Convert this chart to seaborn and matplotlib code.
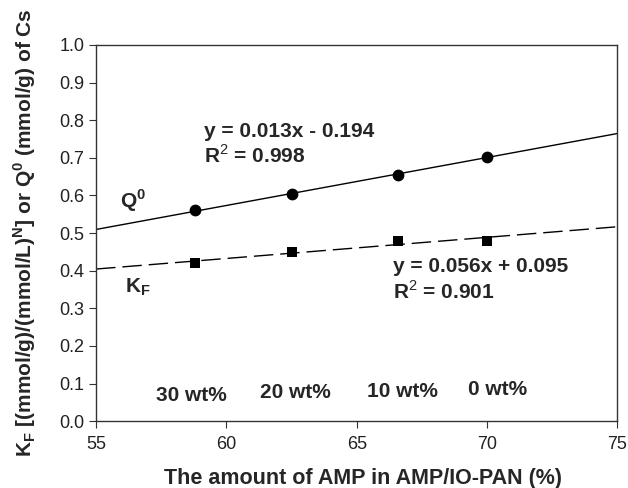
import numpy as np
import pandas as pd
import seaborn as sns
import matplotlib.pyplot as plt

# data
amp = [58.8, 62.5, 66.6, 70.0]
q0 = [0.560, 0.603, 0.655, 0.703]
kf = [0.420, 0.450, 0.480, 0.480]
wt_labels = ["30 wt%", "20 wt%", "10 wt%", "0 wt%"]
wt_x = [58.65, 62.65, 66.75, 70.4]
wt_y = [0.068, 0.077, 0.078, 0.084]

sns.set_style("ticks")
plt.rcParams['font.family'] = ['Liberation Sans', 'DejaVu Sans']
plt.rcParams['mathtext.fontset'] = 'custom'
plt.rcParams['mathtext.rm'] = 'Liberation Sans'
plt.rcParams['mathtext.bf'] = 'Liberation Sans:bold'

df = pd.DataFrame({"amp": amp, "q0": q0, "kf": kf})

fig, ax = plt.subplots(figsize=(6.28, 4.88), dpi=100)
fig.subplots_adjust(left=0.153, right=0.983, top=0.908, bottom=0.137)

xlim = (55, 75)
xs = np.array(xlim)

# linear trend lines
p_q = np.polyfit(amp, q0, 1)
p_k = np.polyfit(amp, kf, 1)
sns.lineplot(x=xs, y=np.polyval(p_q, xs), ax=ax, color="black", lw=1)
ax.plot(xs, np.polyval(p_k, xs), color="black", lw=1, dashes=(14, 5))

sns.scatterplot(data=df, x="amp", y="q0", ax=ax, marker="o", s=72,
                color="black", linewidth=0, zorder=3)
sns.scatterplot(data=df, x="amp", y="kf", ax=ax, marker="s", s=50,
                color="black", linewidth=0, zorder=3)

ax.set_xlim(*xlim)
ax.set_ylim(0, 1.0)
ax.set_xticks([55, 60, 65, 70, 75])
ax.set_yticks(np.arange(0, 1.01, 0.1))
ax.set_yticklabels([f"{v:.1f}" for v in np.arange(0, 1.01, 0.1)])
ax.tick_params(labelsize=13, length=5, color="#333333", labelcolor="#222222")
ax.tick_params(axis="x", pad=6)
for s in ax.spines.values():
    s.set_linewidth(1)
    s.set_color("#333333")

fw = dict(fontsize=15, fontweight="bold")
ax.text(59.15, 0.735, "y = 0.013x - 0.194\nR$^{2}$ = 0.998", va="center",
        linespacing=1.2, **fw)
ax.text(66.4, 0.375, "y = 0.056x + 0.095\nR$^{2}$ = 0.901", va="center",
        linespacing=1.2, **fw)
ax.text(55.9, 0.585, r"Q$^{\mathbf{0}}$", va="center", **fw)
ax.text(56.1, 0.355, r"K$_{\mathbf{F}}$", va="center", **fw)
for x, y, t in zip(wt_x, wt_y, wt_labels):
    ax.text(x, y, t, ha="center", va="center", **fw)

ax.set_xlabel("The amount of AMP in AMP/IO-PAN (%)", fontsize=15.5,
              fontweight="bold", va="top")
ax.xaxis.set_label_coords(0.512, -0.125)
ax.set_ylabel(r"K$_{\mathbf{F}}$ [(mmol/g)/(mmol/L)$^{\mathbf{N}}$] or "
              r"Q$^{\mathbf{0}}$ (mmol/g) of Cs", fontsize=15,
              fontweight="bold")
ax.yaxis.set_label_coords(-0.111, 0.5)

fig.savefig("out.png", dpi=100)
